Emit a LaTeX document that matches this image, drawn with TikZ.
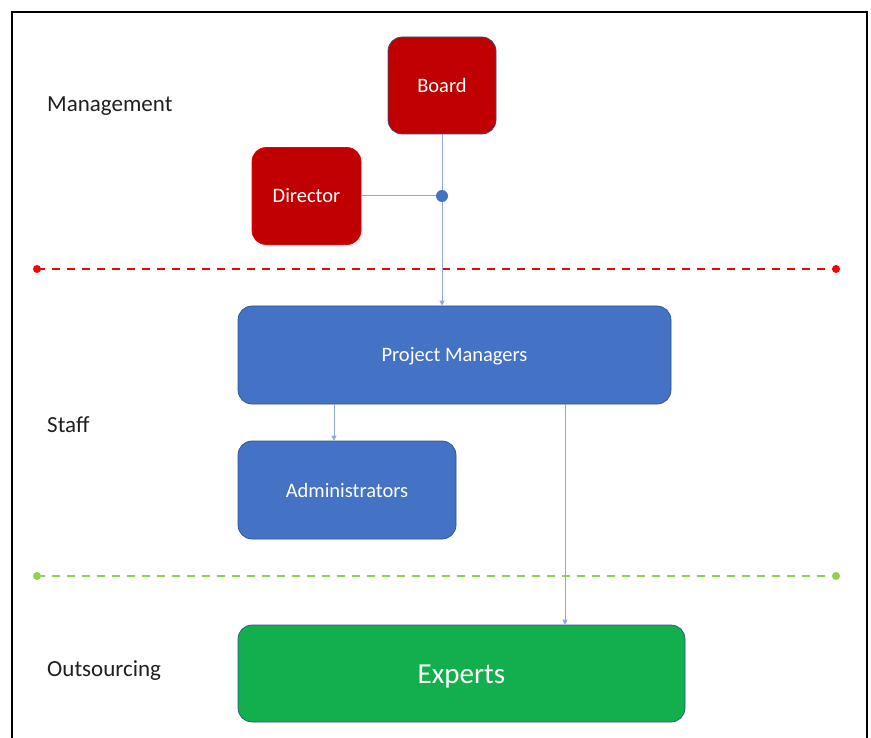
\documentclass[tikz,border=0pt]{standalone}
\usepackage{fontspec}
\setmainfont{Carlito}
\usetikzlibrary{arrows.meta}
\definecolor{boardred}{HTML}{C00000}
\definecolor{staffblue}{HTML}{4472C4}
\definecolor{boxline}{HTML}{2F528F}
\definecolor{expertgreen}{HTML}{12AF4C}
\definecolor{linkblue}{HTML}{8EA9DB}
\definecolor{mgmtred}{HTML}{FF0000}
\definecolor{staffgreen}{HTML}{92D050}
\tikzset{
	unit/.style={draw=boxline, line width=0.7pt, rounded corners=14pt, text=white,
		inner sep=0pt, text height=14pt, text depth=0pt, font=\fontsize{20.5}{22}\selectfont},
	layer/.style={anchor=west, inner sep=0pt, text height=15pt, text depth=0pt,
		text=black!88, font=\fontsize{23}{26}\selectfont},
	link/.style={draw=linkblue, line width=1pt},
	tip/.style={-{Triangle[length=5pt,width=5pt]}},
	border/.style={line width=2.5pt, dash pattern=on 8pt off 7pt}
}
\begin{document}
\begin{tikzpicture}[x=1pt,y={(0pt,-1pt)}]
	\useasboundingbox (0,0) rectangle (871,738);
	\draw[line width=2pt] (12,12) rectangle (867,760);
	% layers
	\node[layer] (management) at (47,104.5) {Management};
	\node[layer] (staff) at (47,424.5) {Staff};
	\node[layer] (outsourcing) at (47,669) {Outsourcing};
	% units
	\node[unit, fill=boardred, minimum width=108pt, minimum height=97pt] (board) at (442,85.5) {Board};
	\node[unit, fill=boardred, draw=mgmtred!80!boardred, minimum width=109pt, minimum height=97pt] (director) at (306.5,196) {Director};
	\node[unit, fill=staffblue, minimum width=433pt, minimum height=98pt] (pm) at (454.5,355) {Project Managers};
	\node[unit, fill=staffblue, minimum width=218pt, minimum height=98pt] (admin) at (347,490) {Administrators};
	\node[unit, fill=expertgreen, minimum width=447pt, minimum height=97pt, text height=20pt, font=\fontsize{29}{32}\selectfont] (experts) at (461.5,673.5) {Experts};
	\node[circle, fill=staffblue, inner sep=0pt, minimum size=12pt] (hub) at (442,196) {};
	% separators
	\coordinate (m1) at (37,269);
	\coordinate (m2) at (836,269);
	\coordinate (s1) at (37,576);
	\coordinate (s2) at (836,576);
	\draw[border, draw=mgmtred] (m1) -- (m2);
	\draw[border, draw=staffgreen] (s1) -- (s2);
	\fill[mgmtred] (m1) circle (4pt) (m2) circle (4pt);
	\fill[staffgreen] (s1) circle (4pt) (s2) circle (4pt);
	% links
	\draw[link] (director) -- (hub);
	\draw[link] (board.south) -- (hub);
	\draw[link, tip] (hub) -- (hub |- pm.north);
	\draw[link, tip] ([xshift=-13pt]admin.north |- pm.south) -- ([xshift=-13pt]admin.north);
	\draw[link, tip] ([xshift=103.5pt]experts.north |- pm.south) -- ([xshift=103.5pt]experts.north);
\end{tikzpicture}
\end{document}
